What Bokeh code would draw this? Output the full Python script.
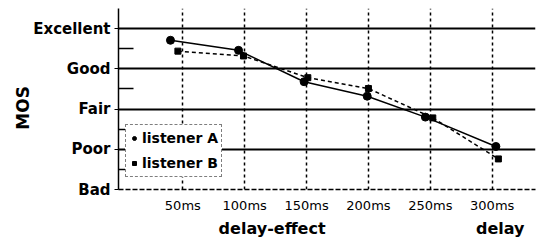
import math
from bokeh.plotting import figure
from bokeh.models import FixedTicker, Legend, LegendItem, Range1d
from bokeh.embed import file_html
from bokeh.resources import INLINE

# data
delays = [50, 100, 150, 200, 250, 300]
delay_labels = ["50ms", "100ms", "150ms", "200ms", "250ms", "300ms"]
mos_levels = [1, 2, 3, 4, 5]
mos_labels = ["Bad", "Poor", "Fair", "Good", "Excellent"]
a_x = [40, 95, 148, 199, 246, 303]
a_y = [4.71, 4.46, 3.68, 3.32, 2.80, 2.07]
b_x = [46, 99, 151, 200, 252, 305]
b_y = [4.44, 4.32, 3.78, 3.51, 2.78, 1.76]
x_title = "delay-effect"
x_unit = "delay"

FONT = "DejaVu Sans"
NB = "\u00a0"

p = figure(width=537, height=240, output_backend="svg", toolbar_location=None,
           x_range=Range1d(-2, 335), y_range=Range1d(1, 5.5),
           min_border_left=118, min_border_right=2, min_border_top=8, min_border_bottom=47)
p.outline_line_color = None
p.background_fill_color = "white"

# axes
p.yaxis.ticker = FixedTicker(ticks=mos_levels, minor_ticks=[1.5, 2.5, 3.5, 4.5])
p.yaxis.major_label_overrides = {v: l for v, l in zip(mos_levels, mos_labels)}
p.yaxis.major_label_text_font = FONT
p.yaxis.major_label_text_font_style = "bold"
p.yaxis.major_label_text_font_size = "15px"
p.yaxis.major_label_text_color = "black"
p.yaxis.major_tick_in = 0
p.yaxis.major_tick_out = 4
p.yaxis.major_label_standoff = 4
p.yaxis.minor_tick_in = 15
p.yaxis.minor_tick_out = 0
p.yaxis.minor_tick_line_width = 1.5
p.yaxis.minor_tick_line_color = "black"
p.yaxis.axis_line_width = 1.5
p.yaxis.axis_line_color = "black"
p.yaxis.axis_label = "MOS" + NB * 3
p.yaxis.axis_label_text_font = FONT
p.yaxis.axis_label_text_font_style = "bold"
p.yaxis.axis_label_text_font_size = "17px"
p.yaxis.axis_label_text_color = "black"
p.yaxis.axis_label_standoff = -3

p.xaxis.ticker = FixedTicker(ticks=delays)
p.xaxis.major_label_overrides = {v: l for v, l in zip(delays, delay_labels)}
p.xaxis.major_label_text_font = FONT
p.xaxis.major_label_text_font_size = "13px"
p.xaxis.major_label_text_color = "black"
p.xaxis.major_tick_in = 0
p.xaxis.major_tick_out = 0
p.xaxis.minor_tick_line_color = None
p.xaxis.major_label_standoff = 8
p.xaxis.axis_line_dash = "5 2"
p.xaxis.axis_line_width = 1.5
p.xaxis.axis_line_color = "black"
p.xaxis.axis_label = NB * 16 + x_title + NB * 27 + x_unit
p.xaxis.axis_label_text_font = FONT
p.xaxis.axis_label_text_font_style = "bold"
p.xaxis.axis_label_text_font_size = "16px"
p.xaxis.axis_label_text_color = "black"
p.xaxis.axis_label_standoff = 3

# grids
p.ygrid.ticker = FixedTicker(ticks=[2, 3, 4, 5])
p.ygrid.grid_line_color = "black"
p.ygrid.grid_line_width = 1.8
p.xgrid.ticker = FixedTicker(ticks=delays)
p.xgrid.grid_line_color = "black"
p.xgrid.grid_line_width = 1.5
p.xgrid.grid_line_dash = "3 3"

# series
p.line(a_x, a_y, line_color="black", line_width=1.5)
ra = p.scatter(a_x, a_y, marker="circle", size=8, fill_color="black", line_color="black")
p.line(b_x, b_y, line_color="black", line_width=1.5, line_dash="4 3")
rb = p.scatter(b_x, b_y, marker="square", size=6, fill_color="black", line_color="black")

legend = Legend(items=[LegendItem(label="listener A", renderers=[ra]),
                       LegendItem(label="listener B", renderers=[rb])],
                location=(7, 12), orientation="vertical")
legend.label_text_font = FONT
legend.label_text_font_style = "bold"
legend.label_text_font_size = "14px"
legend.label_text_color = "black"
legend.label_height = 20
legend.glyph_height = 20
legend.glyph_width = 10
legend.label_standoff = 3
legend.spacing = 5
legend.padding = 3
legend.margin = 0
legend.border_line_color = "black"
legend.border_line_dash = "3 2"
legend.border_line_width = 1.5
legend.background_fill_alpha = 1
p.add_layout(legend, "center")

open("out.html", "w").write(file_html(p, INLINE))
